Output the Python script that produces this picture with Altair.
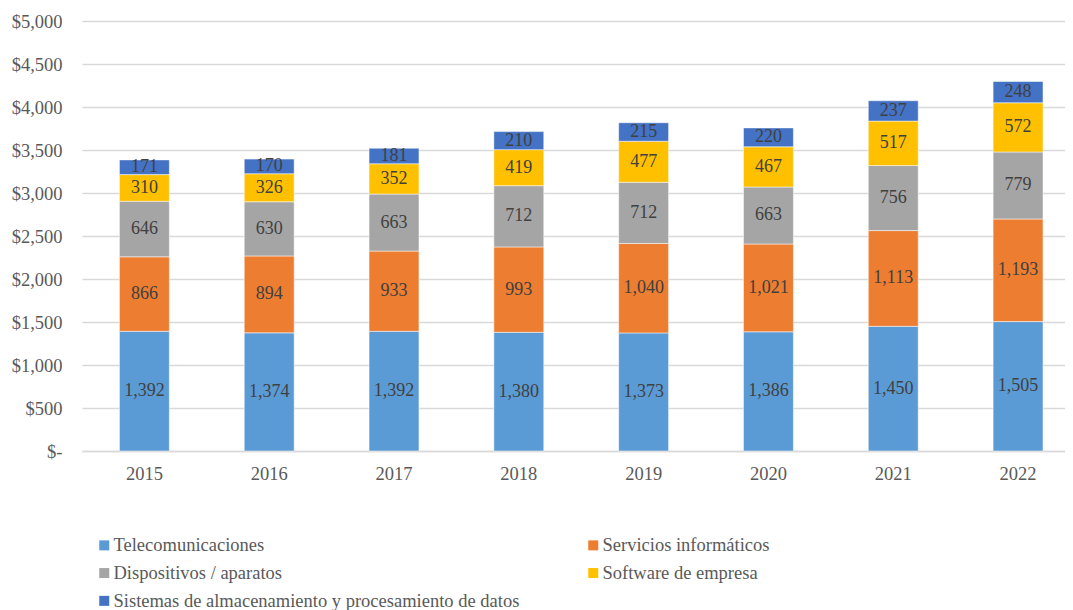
import altair as alt
import pandas as pd

years = ["2015", "2016", "2017", "2018", "2019", "2020", "2021", "2022"]
series = ["Telecomunicaciones", "Servicios informáticos", "Dispositivos / aparatos",
          "Software de empresa", "Sistemas de almacenamiento y procesamiento de datos"]
colors = ["#5B9BD5", "#ED7D31", "#A5A5A5", "#FFC000", "#4472C4"]
telecom = [1392, 1374, 1392, 1380, 1373, 1386, 1450, 1505]
servicios = [866, 894, 933, 993, 1040, 1021, 1113, 1193]
dispositivos = [646, 630, 663, 712, 712, 663, 756, 779]
software = [310, 326, 352, 419, 477, 467, 517, 572]
sistemas = [171, 170, 181, 210, 215, 220, 237, 248]

vals = [telecom, servicios, dispositivos, software, sistemas]
rows = []
for si, (s, v) in enumerate(zip(series, vals)):
    for y, x in zip(years, v):
        rows.append({"year": y, "series": s, "order": si, "value": x})
df = pd.DataFrame(rows)

FONT = "Liberation Serif"
AX = 18.5

base = alt.Chart(df).transform_window(
    cum="sum(value)", groupby=["year"], sort=[alt.SortField("order")]
).transform_calculate(
    start="datum.cum - datum.value", mid="datum.cum - datum.value/2"
)

x_enc = alt.X("year:N", sort=years, title=None,
              scale=alt.Scale(paddingInner=0.6, paddingOuter=0.238, align=0.63),
              axis=alt.Axis(labelAngle=0, labelFont=FONT, labelFontSize=AX, labelColor="#595959",
                            ticks=False, domainColor="#D9D9D9", domainWidth=1.3, labelPadding=13))
y_axis = alt.Axis(values=list(range(0, 5001, 500)), labelFont=FONT, labelFontSize=AX,
                  labelColor="#595959", gridColor="#D9D9D9", gridWidth=1.3,
                  domain=False, ticks=False, labelPadding=20,
                  labelExpr="datum.value == 0 ? '$-' : '$' + format(datum.value, ',')")

bars = base.mark_bar(stroke="white", strokeWidth=0.5).encode(
    x=x_enc,
    y=alt.Y("start:Q", title=None, scale=alt.Scale(domain=[0, 5000]), axis=y_axis),
    y2="cum:Q",
    color=alt.Color("series:N", sort=series,
                    scale=alt.Scale(domain=series, range=colors),
                    legend=alt.Legend(orient="none", legendX=13, legendY=515, columns=2,
                                      title=None, symbolType="square", symbolSize=100,
                                      symbolStrokeWidth=0, labelOffset=0,
                                      labelFont=FONT, labelFontSize=AX, labelColor="#595959",
                                      rowPadding=8.8, columnPadding=64, labelLimit=600,
                                      direction="horizontal")),
)

labels = base.mark_text(font=FONT, fontSize=18, color="#404040", baseline="middle").encode(
    x=x_enc,
    y=alt.Y("mid:Q", title=None, scale=alt.Scale(domain=[0, 5000]), axis=y_axis),
    text=alt.Text("value:Q", format=","),
)

chart = alt.layer(bars, labels).properties(
    width=983, height=430,
    autosize=alt.AutoSizeParams(type="none"),
    padding={"left": 74, "top": 13, "right": 0, "bottom": 159},
).configure(
    font=FONT,
    view=alt.ViewConfig(stroke=None),
).configure_axis(
    labelFont=FONT
).configure_legend(
    labelFont=FONT
)

chart.save("out.html", embed_options={"renderer": "svg", "actions": False})
